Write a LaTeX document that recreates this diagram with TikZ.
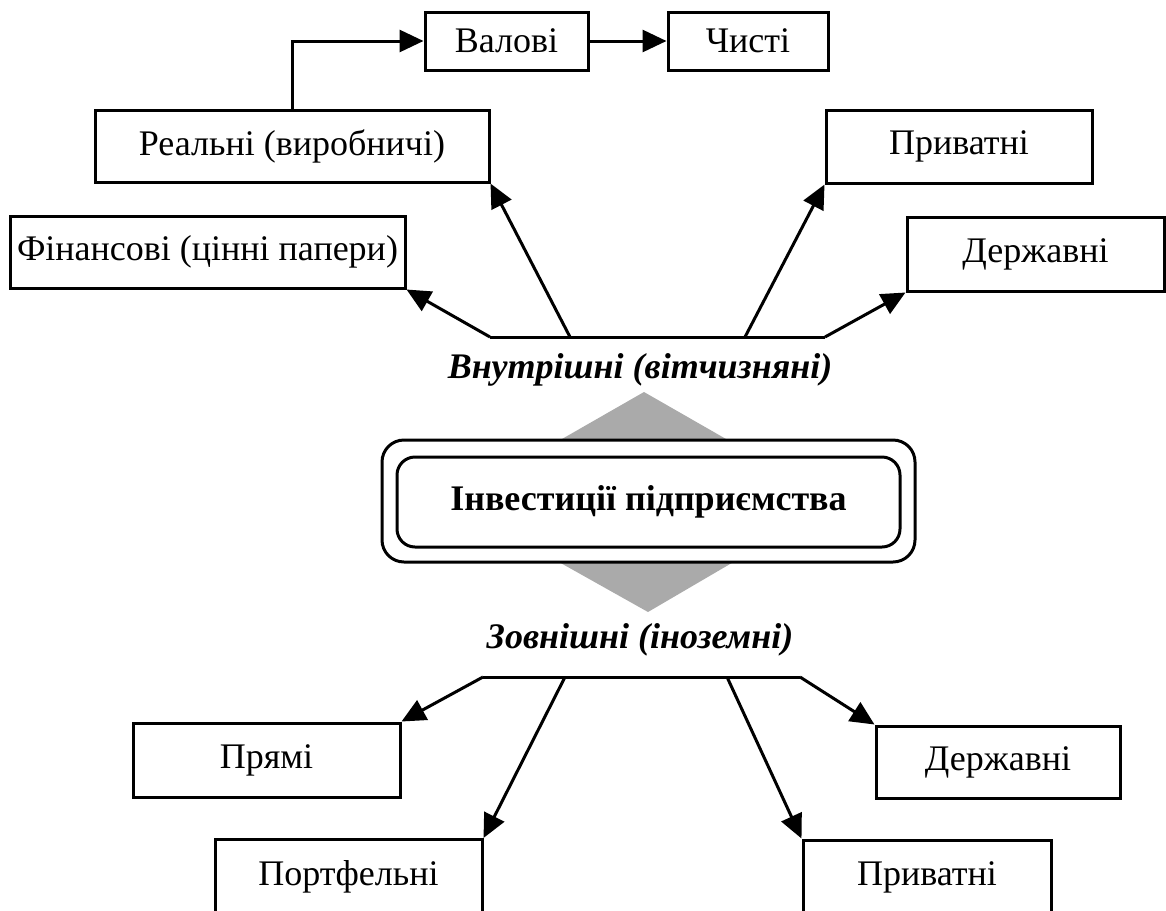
\documentclass[tikz,border=0pt]{standalone}
\usepackage{fontspec}
\setmainfont{Liberation Serif}
\usetikzlibrary{arrows.meta}
\definecolor{diamgray}{HTML}{AAAAAA}

\begin{document}
\begin{tikzpicture}[x=0.5pt,y=-0.5pt,
    box/.style={draw,line width=1.5pt,fill=white,inner sep=0pt,font=\fontsize{18pt}{20pt}\selectfont},
    arr/.style={draw,line width=1.5pt,-{Triangle[length=12pt,width=11pt]}},
    bar/.style={draw,line width=1.5pt},
    grouplabel/.style={font=\fontsize{18pt}{20pt}\selectfont\bfseries\itshape}]
        \useasboundingbox (0,0) rectangle (1166,910);
        \clip (0,0) rectangle (1166,910);

        %%DIAMOND
        % Grey rhomb behind the centre
        \path[fill=diamgray] (644,392) -- (836,502) -- (648,612) -- (452,502) -- cycle;

        %%CENTRE
        % Outer frame
        \node[box,rounded corners=11pt,minimum width=266.5pt,minimum height=61pt] (investout) at (648.5,501) {};
        % Inner frame
        \node[box,rounded corners=9pt,minimum width=251.5pt,minimum height=45pt,font=\fontsize{18pt}{20pt}\selectfont\bfseries] (invest) at (648.5,502) {Інвестиції підприємства};

        %%TOP BRANCH
        \node[grouplabel] (inner) at (640,370) {Внутрішні (вітчизняні)};
        \coordinate (topL) at (490,337);
        \coordinate (topA) at (570,337);
        \coordinate (topB) at (745,337);
        \coordinate (topR) at (825,337);

        \node[box,minimum width=81.5pt,minimum height=29pt] (valovi) at (506.5,41) {Валові};
        \node[box,minimum width=80pt,minimum height=29pt] (chysti) at (748,41) {Чисті};
        \node[box,minimum width=197pt,minimum height=36pt] (realni) at (292,146) {Реальні (виробничі)};
        \node[box,minimum width=197.5pt,minimum height=36pt] (finansovi) at (207.5,252) {Фінансові (цінні папери)};
        \node[box,minimum width=133pt,minimum height=36.5pt] (pryvatniT) at (959,146.5) {Приватні};
        \node[box,minimum width=128.5pt,minimum height=37pt] (derzhavniT) at (1035.5,254) {Державні};

        % Bar and arrows
        \path[bar] (topL) -- (topR);
        \path[arr] (topL) -- (finansovi.south east);
        \path[arr] (topA) -- (realni.south east);
        \path[arr] (topB) -- (pryvatniT.south west);
        \path[arr] (topR) -- (derzhavniT.south west);
        \path[arr] (realni.north) |- (valovi.west);
        \path[arr] (valovi.east) -- (chysti.west);

        %%BOTTOM BRANCH
        \node[grouplabel] (outer) at (640,640) {Зовнішні (іноземні)};
        \coordinate (botL) at (483,677);
        \coordinate (botA) at (565,677);
        \coordinate (botB) at (727,677);
        \coordinate (botR) at (800,677);

        \node[box,minimum width=133.5pt,minimum height=37pt] (pryami) at (266.5,760) {Прямі};
        \node[box,minimum width=133.5pt,minimum height=37pt] (portfelni) at (348.5,876.5) {Портфельні};
        \node[box,minimum width=122pt,minimum height=36pt] (derzhavniB) at (998,762) {Державні};
        \node[box,minimum width=124pt,minimum height=37pt] (pryvatniB) at (927,877) {Приватні};

        % Bar and arrows
        \path[bar] (botL) -- (botR);
        \path[arr] (botL) -- (pryami.north east);
        \path[arr] (botA) -- (portfelni.north east);
        \path[arr] (botB) -- (pryvatniB.north west);
        \path[arr] (botR) -- (derzhavniB.north west);
\end{tikzpicture}
\end{document}
